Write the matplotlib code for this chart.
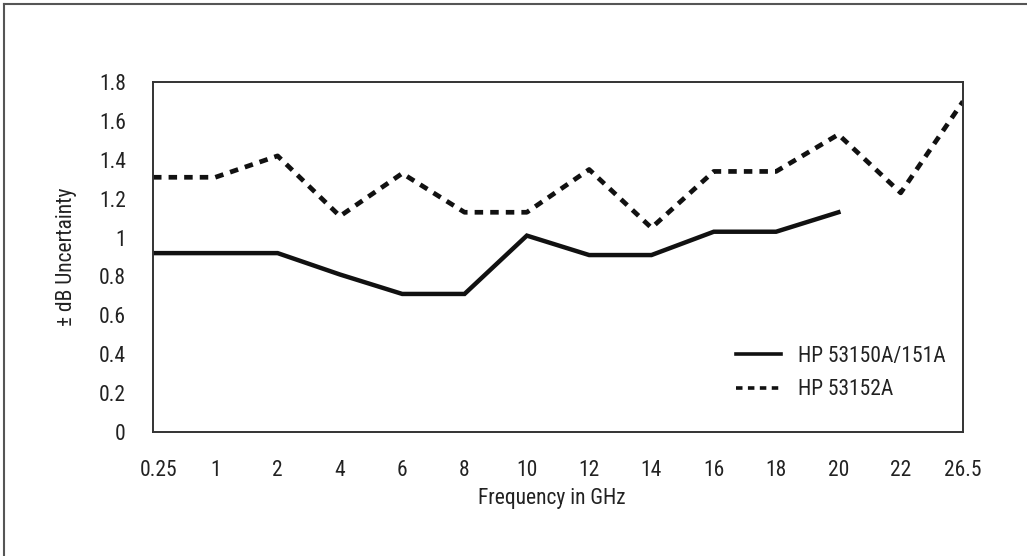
import matplotlib
matplotlib.use("Agg")
import matplotlib.pyplot as plt
from matplotlib.lines import Line2D
from matplotlib.transforms import ScaledTranslation

plt.rcParams['font.family'] = ['Liberation Sans Narrow', 'Roboto Condensed', 'Open Sans Condensed',
                               'Roboto', 'DejaVu Sans']

freq_labels = ["0.25", "1", "2", "4", "6", "8", "10", "12", "14", "16", "18", "20", "22", "26.5"]
hp53150 = [0.92, 0.92, 0.92, 0.81, 0.71, 0.71, 1.01, 0.91, 0.91, 1.03, 1.03, 1.13]
hp53152 = [1.31, 1.31, 1.42, 1.11, 1.33, 1.13, 1.13, 1.35, 1.05, 1.34, 1.34, 1.53, 1.23, 1.70]
y_ticks = [0, 0.2, 0.4, 0.6, 0.8, 1, 1.2, 1.4, 1.6, 1.8]
y_labels = ["0", "0.2", "0.4", "0.6", "0.8", "1", "1.2", "1.4", "1.6", "1.8"]

W, H = 1027, 556
FS = 15.5
fig = plt.figure(figsize=(W / 100, H / 100), dpi=100)
ax = fig.add_axes([153 / W, 1 - 432 / H, (963 - 153) / W, (432 - 82) / H])

txt = '#222222'
idx = list(range(len(freq_labels)))
ax.plot(idx[:len(hp53150)], hp53150, color='#111111', lw=3.2, solid_joinstyle='miter',
        label='HP 53150A/151A')
ax.plot(idx[:len(hp53152)], hp53152, color='#111111', lw=3.4, dashes=(1.8, 1.5),
        dash_capstyle='butt', label='HP 53152A')

ax.set_xlim(0, len(freq_labels) - 1)
ax.set_ylim(0, 1.8)

ax.set_xticks(idx)
ax.set_xticklabels(freq_labels, fontsize=FS, color=txt)
ax.set_yticks(y_ticks)
ax.set_yticklabels(y_labels, fontsize=FS, color=txt)
ax.tick_params(axis='x', which='major', length=0, pad=20)
ax.tick_params(axis='y', which='major', length=0, pad=19.5)
ax.set_xticks(idx[1:-1], minor=True)
ax.set_yticks(y_ticks[1:-1], minor=True)
ax.tick_params(which='minor', length=11, width=1.4, color='#333333')

first = ax.get_xticklabels()[0]
first.set_transform(first.get_transform() + ScaledTranslation(6 / 100, 0, fig.dpi_scale_trans))

for s in ax.spines.values():
    s.set_color('#333333')
    s.set_linewidth(1.4)

ax.set_xlabel('Frequency in GHz', fontsize=FS, color=txt)
ax.xaxis.set_label_coords((552 - 153) / (963 - 153), -(488 - 432) / (432 - 82))
ax.set_ylabel('± dB Uncertainty', fontsize=FS, color=txt)
ax.yaxis.set_label_coords(-(153 - 77) / (963 - 153), 0.5)

leg = ax.legend(loc='center left', bbox_to_anchor=((736 - 153) / 810, (432 - 373) / 350),
                frameon=False, fontsize=FS, handlelength=2.1, handletextpad=0.8,
                labelspacing=0.6, borderpad=0, borderaxespad=0)
for t in leg.get_texts():
    t.set_color(txt)
for h in leg.legend_handles:
    h.set_linewidth(2.6)

fig.add_artist(Line2D([4 / W, 1], [1 - 4 / H, 1 - 4 / H], transform=fig.transFigure,
                      color='#555555', lw=1.5))
fig.add_artist(Line2D([4 / W, 4 / W], [0, 1 - 4 / H], transform=fig.transFigure,
                      color='#555555', lw=1.5))

fig.savefig('out.png', dpi=100, facecolor='white')
